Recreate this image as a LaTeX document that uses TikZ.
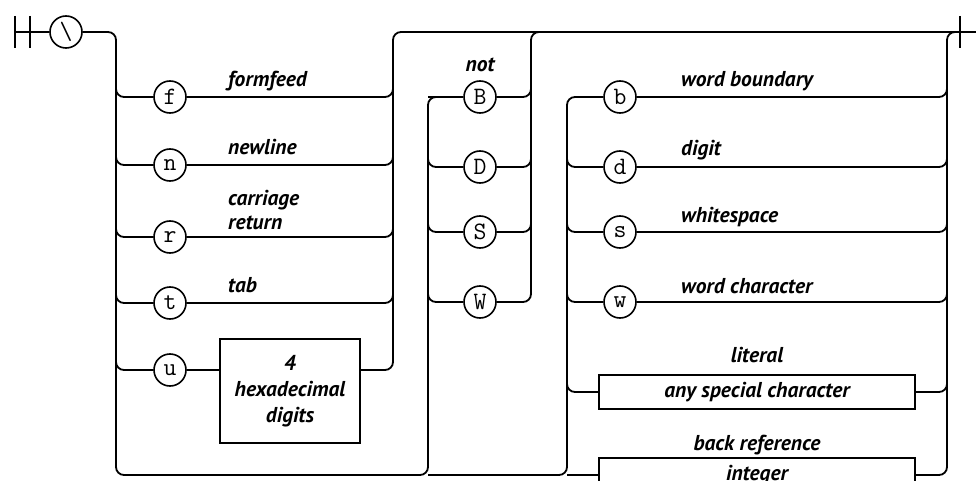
\documentclass[tikz,border=0pt]{standalone}
\usepackage{fontspec}
\newfontfamily\lblfont{PT Sans}
\usetikzlibrary{positioning, calc}

\tikzset{
  rail/.style={line width=1.8pt, rounded corners=8pt},
  chr/.style={circle, draw, line width=1.6pt, minimum size=32pt, inner sep=0pt,
    font=\ttfamily\fontsize{25}{25}\selectfont},
  tok/.style={draw, line width=1.6pt, inner sep=0pt, align=center,
    font=\lblfont\bfseries\itshape\fontsize{21.5}{26}\selectfont},
  lbl/.style={inner sep=0pt, font=\lblfont\bfseries\itshape\fontsize{21.5}{26}\selectfont},
  lblw/.style={lbl, anchor=base west},
}

\begin{document}
\begin{tikzpicture}[x=1pt, y=-1pt]
        \useasboundingbox (0,0) rectangle (976,481);

        % ==========================================
        % Entry and rails
        % ==========================================
        \coordinate (start) at (15,32);
        \coordinate (fin)   at (960,32);
        \coordinate (edge)  at (976,32);
        \coordinate (aL) at (116,475);
        \coordinate (aR) at (393,32);
        \coordinate (bL) at (428,97);
        \coordinate (bR) at (531,32);
        \coordinate (cL) at (567,97);
        \coordinate (cR) at (947,32);

        \node[chr] (bs) at (66,32) {\textbackslash};
        \draw[line width=1.8pt] (15,16) -- (15,48) (30,16) -- (30,48);
        \draw[line width=1.8pt] (960,16) -- (960,48);
        \draw[rail] (start) -- (bs.west);

        % ==========================================
        % Control characters
        % ==========================================
        \node[chr] (f) at (170,97)  {f};
        \node[chr] (n) at (170,165) {n};
        \node[chr] (r) at (170,237) {r};
        \node[chr] (t) at (170,303) {t};
        \node[chr] (u) at (170,370) {u};
        \node[tok, minimum width=140pt, minimum height=104pt] (hex) at (290,391)
              {4\\hexadecimal\\digits};

        \node[lblw] (fflbl) at (228,87)  {formfeed};
        \node[lblw] (nllbl) at (228,155) {newline};
        \node[lblw] (cralbl) at (228,205) {carriage};
        \node[lblw] (crblbl) at (228,229) {return};
        \node[lblw] (tblbl) at (228,292) {tab};

        \draw[rail] (bs.east) -| (aL) -| (bL) -- ++(20,0);
        \foreach \c in {f,n,r,t,u}
            \draw[rail] ($(aL |- \c.west)+(0,-20)$) |- (\c.west);
        \foreach \c in {f,n,r,t}
            \draw[rail] (\c.east) -| ($(aR |- \c.east)+(0,-20)$);
        \draw[rail] (u.east) -- (u.east -| hex.west);
        \draw[rail] (u.east -| hex.east) -| (aR) -- (edge);

        % ==========================================
        % Negated classes
        % ==========================================
        \node[chr] (B) at (480,97)  {B};
        \node[chr] (D) at (480,167) {D};
        \node[chr] (S) at (480,232) {S};
        \node[chr] (W) at (480,302) {W};
        \node[lbl, anchor=base] (notlbl) at (480,72) {not};

        \draw[rail] (bL) -- (B.west);
        \foreach \c in {D,S,W}
            \draw[rail] ($(bL |- \c.west)+(0,-20)$) |- (\c.west);
        \foreach \c in {B,D,S}
            \draw[rail] (\c.east) -| ($(bR |- \c.east)+(0,-20)$);
        \draw[rail] (W.east) -| (bR) -- ++(25,0);

        % ==========================================
        % Classes, literal and back reference
        % ==========================================
        \node[chr] (b) at (620,97)  {b};
        \node[chr] (d) at (620,167) {d};
        \node[chr] (s) at (620,232) {s};
        \node[chr] (w) at (620,302) {w};
        \node[tok, minimum width=316pt, minimum height=34pt] (lit) at (757,392)
              {any special character};
        \node[tok, minimum width=316pt, minimum height=34pt] (int) at (757,475)
              {integer};

        \node[lblw] (wblbl) at (681,87)  {word boundary};
        \node[lblw] (dglbl) at (681,156) {digit};
        \node[lblw] (wslbl) at (681,222) {whitespace};
        \node[lblw] (wclbl) at (681,293) {word character};
        \node[lbl, anchor=base] (litlbl) at (757,362) {literal};
        \node[lbl, anchor=base] (brlbl) at (757,450) {back reference};

        \draw[rail] (aL -| bL) -| (cL) -- (b.west);
        \draw[rail] (aL -| cL) -- (int.west);
        \foreach \c in {d,s,w,lit}
            \draw[rail] ($(cL |- \c.west)+(0,-20)$) |- (\c.west);
        \foreach \c in {b,d,s,w,lit}
            \draw[rail] (\c.east) -| ($(cR |- \c.east)+(0,-20)$);
        \draw[rail] (int.east) -| (cR) -- (fin);

\end{tikzpicture}
\end{document}
